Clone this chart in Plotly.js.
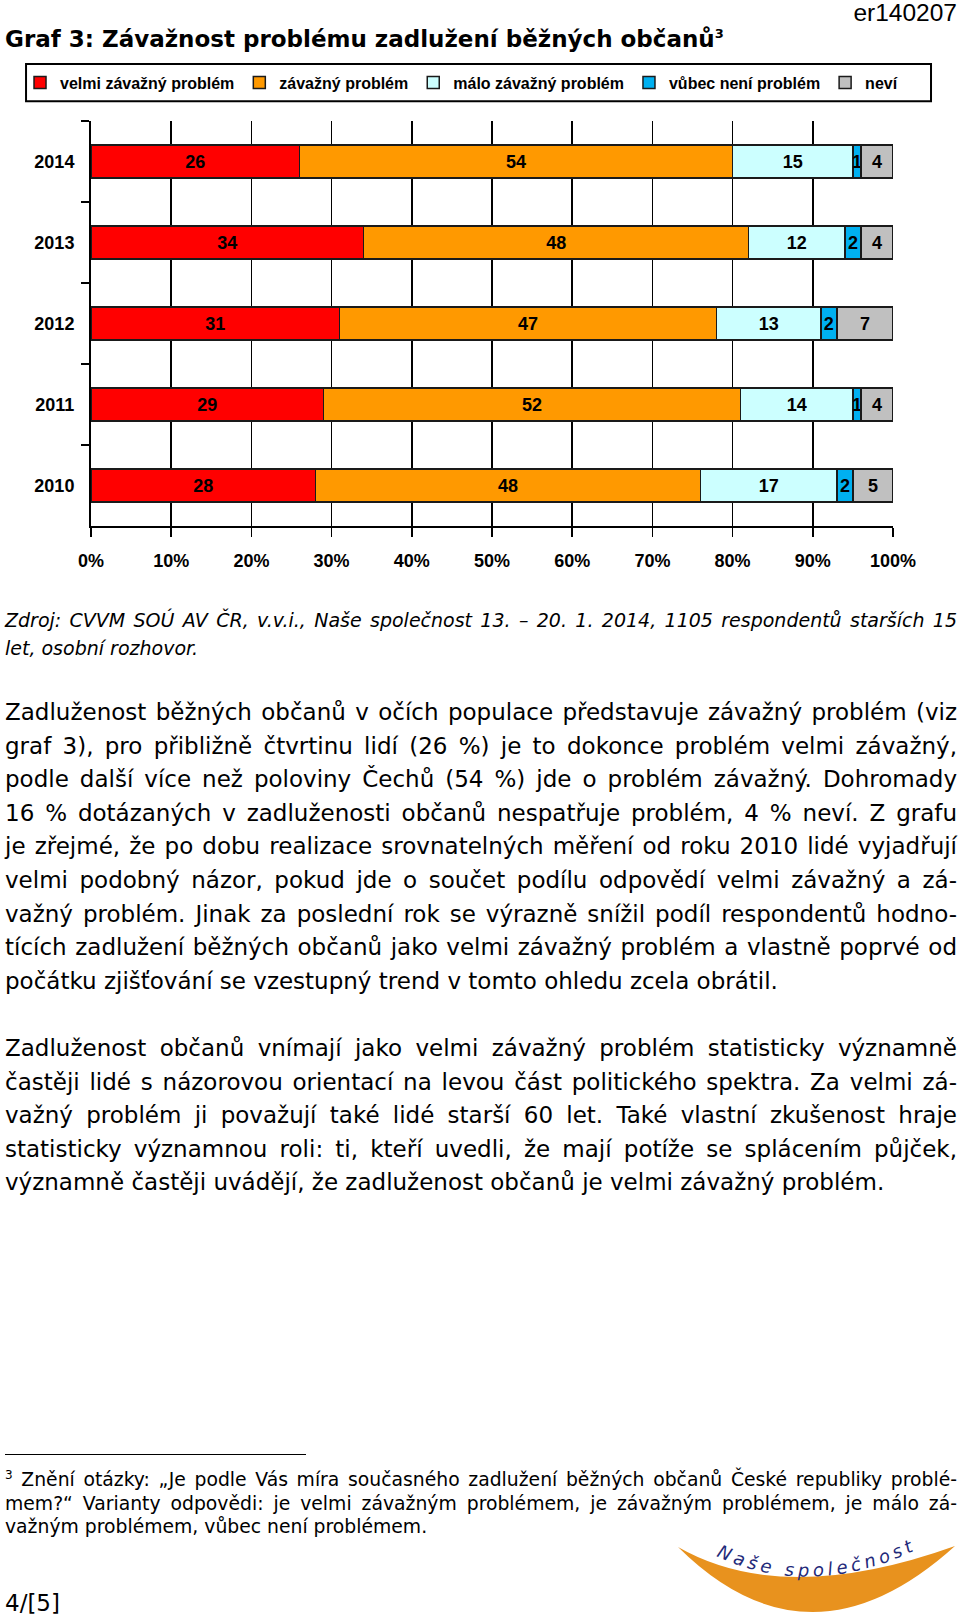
<!DOCTYPE html>
<html>
<head>
<meta charset="utf-8">
<script src="https://cdn.plot.ly/plotly-3.0.1.min.js"></script>
<style>
  html, body { margin:0; padding:0; background:#fff; }
  body { width:960px; height:1617px; position:relative; overflow:hidden; font-family:"DejaVu Sans", Verdana, sans-serif; color:#000; }
  .abs { position:absolute; }
  .jl { text-align:justify; text-align-last:justify; white-space:nowrap; }
  .ll { text-align:left; white-space:nowrap; }
  #code { right:3px; top:-1px; font-family:"Liberation Sans", Arial, sans-serif; font-size:24.5px; line-height:27px; }
  #title { left:5px; top:24px; font-weight:bold; font-size:23px; line-height:30px; white-space:nowrap; }
  #title sup { font-size:13px; vertical-align:top; position:relative; top:-5px; }
  #chart { left:0; top:50px; width:960px; height:560px; }
  #source { left:5px; top:607px; width:952px; font-style:italic; font-size:19px; line-height:27.5px; }
  .para { left:5px; width:952px; font-size:23px; line-height:33.6px; }
  #p1 { top:696px; }
  #p2 { top:1032px; }
  #rule { left:5px; top:1454px; width:301px; height:1.2px; background:#000; }
  #foot { left:5px; top:1468px; width:952px; font-size:18.8px; line-height:23.7px; }
  #foot sup { font-size:12px; vertical-align:top; position:relative; top:-4px; }
  #page { left:5px; top:1589px; font-size:23px; line-height:28px; }
  #logo { left:0; top:0; }
</style>
</head>
<body>
<div id="code" class="abs">er140207</div>
<div id="title" class="abs">Graf 3: Závažnost problému zadlužení běžných občanů<sup>3</sup></div>
<div id="chart" class="abs"></div>

<div id="source" class="abs">
  <div class="jl">Zdroj: CVVM SOÚ AV ČR, v.v.i., Naše společnost 13. – 20. 1. 2014, 1105 respondentů starších 15</div>
  <div class="ll">let, osobní rozhovor.</div>
</div>

<div id="p1" class="abs para">
  <div class="jl">Zadluženost běžných občanů v očích populace představuje závažný problém (viz</div>
  <div class="jl">graf 3), pro přibližně čtvrtinu lidí (26 %) je to dokonce problém velmi závažný,</div>
  <div class="jl">podle další více než poloviny Čechů (54 %) jde o problém závažný. Dohromady</div>
  <div class="jl">16 % dotázaných v zadluženosti občanů nespatřuje problém, 4 % neví. Z grafu</div>
  <div class="jl">je zřejmé, že po dobu realizace srovnatelných měření od roku 2010 lidé vyjadřují</div>
  <div class="jl">velmi podobný názor, pokud jde o součet podílu odpovědí velmi závažný a zá-</div>
  <div class="jl">važný problém. Jinak za poslední rok se výrazně snížil podíl respondentů hodno-</div>
  <div class="jl">tících zadlužení běžných občanů jako velmi závažný problém a vlastně poprvé od</div>
  <div class="ll">počátku zjišťování se vzestupný trend v tomto ohledu zcela obrátil.</div>
</div>

<div id="p2" class="abs para">
  <div class="jl">Zadluženost občanů vnímají jako velmi závažný problém statisticky významně</div>
  <div class="jl">častěji lidé s názorovou orientací na levou část politického spektra. Za velmi zá-</div>
  <div class="jl">važný problém ji považují také lidé starší 60 let. Také vlastní zkušenost hraje</div>
  <div class="jl">statisticky významnou roli: ti, kteří uvedli, že mají potíže se splácením půjček,</div>
  <div class="ll">významně častěji uvádějí, že zadluženost občanů je velmi závažný problém.</div>
</div>

<div id="rule" class="abs"></div>
<div id="foot" class="abs">
  <div class="jl"><sup>3</sup> Znění otázky: „Je podle Vás míra současného zadlužení běžných občanů České republiky problé-</div>
  <div class="jl">mem?“ Varianty odpovědi: je velmi závažným problémem, je závažným problémem, je málo zá-</div>
  <div class="ll">važným problémem, vůbec není problémem.</div>
</div>
<div id="page" class="abs">4/[5]</div>

<svg id="logo" class="abs" width="960" height="1617" viewBox="0 0 960 1617" style="pointer-events:none">
  <path d="M678,1547 Q809.5,1677.5 955,1546 Q783.5,1607.5 678,1547 Z" fill="#E8921E"/>
  <path id="arc" d="M716,1556 Q810,1600 916,1550" fill="none"/>
  <text font-family="DejaVu Sans, Verdana, sans-serif" font-size="18" font-style="italic" fill="#1F2A7A">
    <textPath href="#arc" textLength="205" lengthAdjust="spacing">Naše společnost</textPath>
  </text>
</svg>

<script>
// ---- data ----
const years = ['2014', '2013', '2012', '2011', '2010'];
const velmiZavazny = [26, 34, 31, 29, 28];
const zavazny      = [54, 48, 47, 52, 48];
const maloZavazny  = [15, 12, 13, 14, 17];
const vubecNeni    = [1, 2, 2, 1, 2];
const nevi         = [4, 4, 7, 4, 5];
const seriesNames  = ['velmi závažný problém', 'závažný problém', 'málo závažný problém', 'vůbec není problém', 'neví'];
const tickValues   = [0, 10, 20, 30, 40, 50, 60, 70, 80, 90, 100];
const tickLabels   = ['0%', '10%', '20%', '30%', '40%', '50%', '60%', '70%', '80%', '90%', '100%'];

const seriesValues = [velmiZavazny, zavazny, maloZavazny, vubecNeni, nevi];
const colors = ['#FF0000', '#FF9900', '#CCFFFF', '#00B0F0', '#C0C0C0'];

const labelFont = { family: 'Liberation Sans, Arial, sans-serif', size: 18, color: '#000', weight: 'bold' };

const traces = seriesValues.map((vals, i) => ({
  type: 'bar',
  orientation: 'h',
  name: seriesNames[i],
  y: years,
  x: vals,
  text: vals.map(String),
  textposition: 'inside',
  insidetextanchor: 'middle',
  textangle: 0,
  textfont: labelFont,
  insidetextfont: labelFont,
  marker: { color: colors[i], line: { color: '#1a1a1a', width: 1.5 } },
  hoverinfo: 'skip'
}));

const layout = {
  width: 960,
  height: 560,
  margin: { l: 91, r: 67, t: 71, b: 84, pad: 0 },
  paper_bgcolor: 'rgba(0,0,0,0)',
  plot_bgcolor: '#fff',
  barmode: 'stack',
  bargap: 0.59,
  showlegend: true,
  uniformtext: { mode: 'show', minsize: 18 },
  legend: {
    orientation: 'h',
    traceorder: 'normal',
    x: -0.0885, xanchor: 'left',
    y: 1.095, yanchor: 'middle',
    font: { family: 'Liberation Sans, Arial, sans-serif', size: 16, color: '#000', weight: 'bold' },
    itemwidth: 30,
    bgcolor: 'rgba(0,0,0,0)',
    borderwidth: 0
  },
  xaxis: {
    range: [0, 100],
    tickmode: 'array',
    tickvals: tickValues,
    ticktext: tickLabels,
    showgrid: true,
    gridcolor: '#000',
    gridwidth: 1.5,
    zeroline: false,
    showline: true,
    linecolor: '#000',
    linewidth: 2,
    ticks: 'outside',
    ticklen: 9,
    tickwidth: 1.5,
    tickcolor: '#000',
    ticklabelstandoff: 8,
    tickfont: labelFont,
    fixedrange: true
  },
  yaxis: {
    type: 'category',
    categoryorder: 'array',
    categoryarray: years,
    autorange: 'reversed',
    showgrid: false,
    zeroline: false,
    showline: true,
    linecolor: '#000',
    linewidth: 2,
    ticks: 'outside',
    tickson: 'boundaries',
    ticklen: 8,
    tickwidth: 1.5,
    tickcolor: '#000',
    ticklabelstandoff: 11,
    tickfont: labelFont,
    fixedrange: true
  },
  shapes: [{
    type: 'rect', xref: 'paper', yref: 'paper',
    x0: -0.081, x1: 1.0474, y0: 1.049, y1: 1.141,
    line: { color: '#000', width: 2 },
    fillcolor: 'rgba(0,0,0,0)'
  }]
};

Plotly.newPlot('chart', traces, layout, { staticPlot: true, displayModeBar: false });
</script>
</body>
</html>
